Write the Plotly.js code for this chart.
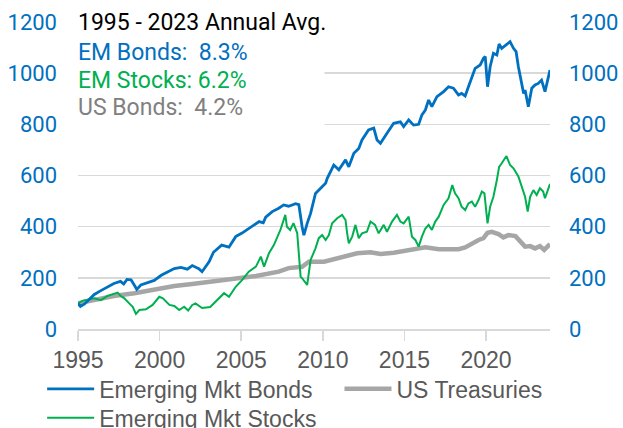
<!DOCTYPE html>
<html>
<head>
<meta charset="utf-8">
<script src="https://cdn.plot.ly/plotly-3.0.1.min.js"></script>
<style>
  html, body { margin: 0; padding: 0; background: #fff; }
  #chart { width: 623px; height: 428px; }
</style>
</head>
<body>
<div id="chart"></div>
<script>
// growth of 100 invested, decimal years
const bondYears = [1995.0, 1995.15, 1995.4, 1995.7, 1996.0, 1996.4, 1996.8, 1997.2, 1997.6, 1997.8, 1998.0, 1998.25, 1998.5, 1998.6, 1998.85, 1999.26, 1999.67, 2000.1, 2000.5, 2000.9, 2001.3, 2001.7, 2002.0, 2002.4, 2002.6, 2003.03, 2003.3, 2003.8, 2004.25, 2004.66, 2005.05, 2005.66, 2006.1, 2006.35, 2006.5, 2006.9, 2007.3, 2007.6, 2007.9, 2008.33, 2008.53, 2008.73, 2008.84, 2009.04, 2009.25, 2009.55, 2009.86, 2010.17, 2010.27, 2010.67, 2010.98, 2011.39, 2011.59, 2011.9, 2012.2, 2012.4, 2012.8, 2013.12, 2013.32, 2013.53, 2013.93, 2014.34, 2014.75, 2014.95, 2015.26, 2015.56, 2015.87, 2016.07, 2016.28, 2016.48, 2016.68, 2016.99, 2017.4, 2017.7, 2018.0, 2018.31, 2018.5, 2018.72, 2018.92, 2019.13, 2019.33, 2019.64, 2019.84, 2019.95, 2020.09, 2020.25, 2020.45, 2020.66, 2020.8, 2020.96, 2021.2, 2021.47, 2021.68, 2021.84, 2021.98, 2022.18, 2022.3, 2022.39, 2022.59, 2022.8, 2023.0, 2023.2, 2023.4, 2023.61, 2023.917];
const bondVals = [100, 88, 98, 115, 135, 150, 164, 178, 186, 176, 194, 192, 166, 155, 172, 181, 190, 210, 223, 236, 241, 234, 248, 236, 224, 263, 300, 328, 320, 361, 375, 400, 420, 415, 437, 459, 472, 485, 480, 490, 486, 400, 367, 413, 452, 530, 550, 570, 589, 641, 622, 661, 634, 687, 706, 739, 778, 785, 739, 726, 765, 804, 810, 791, 817, 797, 800, 837, 856, 895, 869, 908, 928, 947, 941, 915, 921, 911, 947, 980, 1019, 1032, 1058, 1065, 947, 1025, 1078, 1071, 1114, 1097, 1110, 1123, 1097, 1084, 1025, 960, 921, 934, 869, 941, 954, 960, 973, 928, 1012];

const stockYears = [1995.0, 1995.3, 1996.0, 1996.4, 1996.8, 1997.2, 1997.43, 1997.6, 1997.84, 1998.14, 1998.35, 1998.55, 1998.76, 1999.16, 1999.57, 1999.98, 2000.2, 2000.6, 2000.9, 2001.2, 2001.5, 2001.75, 2002.0, 2002.2, 2002.6, 2003.1, 2003.5, 2003.95, 2004.25, 2004.66, 2005.05, 2005.46, 2005.9, 2006.1, 2006.2, 2006.4, 2006.7, 2007.0, 2007.4, 2007.7, 2007.8, 2008.0, 2008.2, 2008.43, 2008.64, 2008.73, 2008.94, 2009.04, 2009.25, 2009.55, 2009.75, 2009.96, 2010.17, 2010.37, 2010.57, 2010.88, 2011.18, 2011.39, 2011.49, 2011.59, 2011.8, 2012.0, 2012.2, 2012.4, 2012.7, 2012.92, 2013.2, 2013.42, 2013.73, 2013.93, 2014.24, 2014.54, 2014.75, 2014.95, 2015.26, 2015.46, 2015.67, 2015.87, 2016.07, 2016.28, 2016.48, 2016.68, 2016.89, 2017.1, 2017.4, 2017.7, 2017.93, 2018.1, 2018.31, 2018.5, 2018.72, 2018.92, 2019.13, 2019.33, 2019.54, 2019.74, 2019.9, 2020.09, 2020.25, 2020.45, 2020.66, 2020.8, 2020.96, 2021.1, 2021.25, 2021.47, 2021.68, 2021.98, 2022.18, 2022.39, 2022.55, 2022.7, 2022.9, 2023.1, 2023.3, 2023.5, 2023.61, 2023.917];
const stockVals = [100, 111, 120, 113, 129, 137, 142, 130, 120, 100, 87, 59, 74, 77, 94, 126, 120, 94, 90, 74, 87, 72, 94, 100, 82, 86, 113, 140, 126, 165, 191, 224, 244, 270, 283, 244, 296, 328, 387, 446, 400, 387, 414, 375, 204, 199, 180, 172, 270, 315, 355, 367, 348, 367, 413, 433, 446, 426, 374, 335, 361, 407, 355, 374, 380, 420, 407, 374, 407, 380, 420, 446, 420, 413, 439, 361, 348, 322, 361, 393, 407, 387, 420, 439, 485, 511, 563, 530, 511, 478, 465, 491, 498, 478, 504, 537, 530, 413, 478, 517, 582, 634, 648, 661, 676, 641, 628, 596, 556, 517, 459, 517, 543, 524, 550, 537, 511, 567];

const tsyYears = [1995.0, 1996.0, 1997.2, 1998.45, 1999.67, 2000.9, 2002.0, 2003.8, 2005.9, 2007.3, 2007.9, 2008.73, 2009.14, 2010.07, 2010.88, 2011.49, 2012.1, 2012.92, 2013.53, 2014.34, 2014.95, 2015.77, 2016.28, 2017.1, 2018.31, 2018.72, 2019.13, 2019.54, 2019.84, 2020.09, 2020.35, 2020.76, 2021.06, 2021.37, 2021.8, 2022.08, 2022.39, 2022.7, 2023.0, 2023.3, 2023.56, 2023.917];
const tsyVals = [100, 113, 129, 140, 155, 168, 176, 191, 207, 224, 238, 243, 263, 263, 276, 283, 296, 300, 293, 298, 306, 315, 319, 312, 312, 319, 335, 348, 355, 376, 380, 371, 358, 367, 363, 341, 322, 324, 315, 324, 309, 332];

const xTicks = [1995, 2000, 2005, 2010, 2015, 2020];
const yTicks = [0, 200, 400, 600, 800, 1000, 1200];

const blue = "#0070C0";
const green = "#00B050";
const grey = "#A6A6A6";
const dinFont = "Roboto, 'DejaVu Sans', sans-serif";
const arialFont = "'Liberation Sans', Arial, sans-serif";

// bonds sit on the right-hand axis (same scale) so that axis is drawn and the line stays on top
// one legend per trace so the entries land where the original puts them
const traces = [
	{ x: tsyYears, y: tsyVals, name: "US Treasuries", legend: "legend2", mode: "lines", line: { color: grey, width: 4.5 }, hoverinfo: "skip" },
	{ x: stockYears, y: stockVals, name: "Emerging Mkt Stocks", legend: "legend3", mode: "lines", line: { color: green, width: 2 }, hoverinfo: "skip" },
	{ x: bondYears, y: bondVals, yaxis: "y2", name: "Emerging Mkt Bonds", legend: "legend", mode: "lines", line: { color: blue, width: 2.8 }, hoverinfo: "skip" },
];

const yTickStyle = {
	range: [0, 1200],
	tickmode: "array",
	tickvals: yTicks,
	ticks: "",
	tickfont: { family: dinFont, size: 22, color: blue },
	zeroline: false,
	showline: false,
	fixedrange: true,
};

const annot = (text, y, color) => ({
	xref: "paper", yref: "y", x: -0.004, y: y,
	xanchor: "left", yanchor: "middle",
	text: text, showarrow: false,
	font: { family: dinFont, size: 23, color: color },
});

const legendBox = (x, y) => ({
	orientation: "h",
	x: x,
	xanchor: "left",
	y: y,
	yanchor: "top",
	font: { family: arialFont, size: 23, color: "#595959" },
	itemwidth: 47,
	bgcolor: "rgba(0,0,0,0)",
});

const layout = {
	width: 623,
	height: 428,
	margin: { l: 78, r: 73, t: 22, b: 99, autoexpand: false },
	paper_bgcolor: "#ffffff",
	plot_bgcolor: "#ffffff",
	showlegend: true,
	xaxis: {
		range: [1995, 2023.917],
		tickmode: "array",
		tickvals: xTicks,
		showgrid: false,
		zeroline: false,
		showline: true,
		linecolor: "#d9d9d9",
		linewidth: 1.5,
		ticks: "outside",
		ticklen: 10,
		tickwidth: 1.5,
		tickcolor: "#d9d9d9",
		tickfont: { family: arialFont, size: 23, color: "#595959" },
		fixedrange: true,
	},
	yaxis: Object.assign({}, yTickStyle, {
		showgrid: true,
		gridcolor: "#d9d9d9",
		gridwidth: 1.5,
		ticklabelstandoff: 20,
	}),
	yaxis2: Object.assign({}, yTickStyle, {
		overlaying: "y",
		side: "right",
		showgrid: false,
		ticklabelstandoff: 18,
	}),
	shapes: [
		// white panel behind the text block
		{ type: "rect", layer: "between", xref: "x", yref: "y", x0: 1994, x1: 2010.1, y0: 700, y1: 1300, fillcolor: "#ffffff", line: { width: 0 } },
	],
	annotations: [
		annot("1995 - 2023 Annual Avg.", 1197, "#000000"),
		annot("EM Bonds:\u00a0\u00a08.3%", 1080, blue),
		annot("EM Stocks: 6.2%", 973, green),
		annot("US Bonds:\u00a0\u00a04.2%", 867, "#808080"),
	],
	legend: legendBox(-0.076, -0.125),
	legend2: legendBox(0.554, -0.125),
	legend3: legendBox(-0.076, -0.219),
};

Plotly.newPlot("chart", traces, layout, { staticPlot: true, displayModeBar: false });
</script>
</body>
</html>
